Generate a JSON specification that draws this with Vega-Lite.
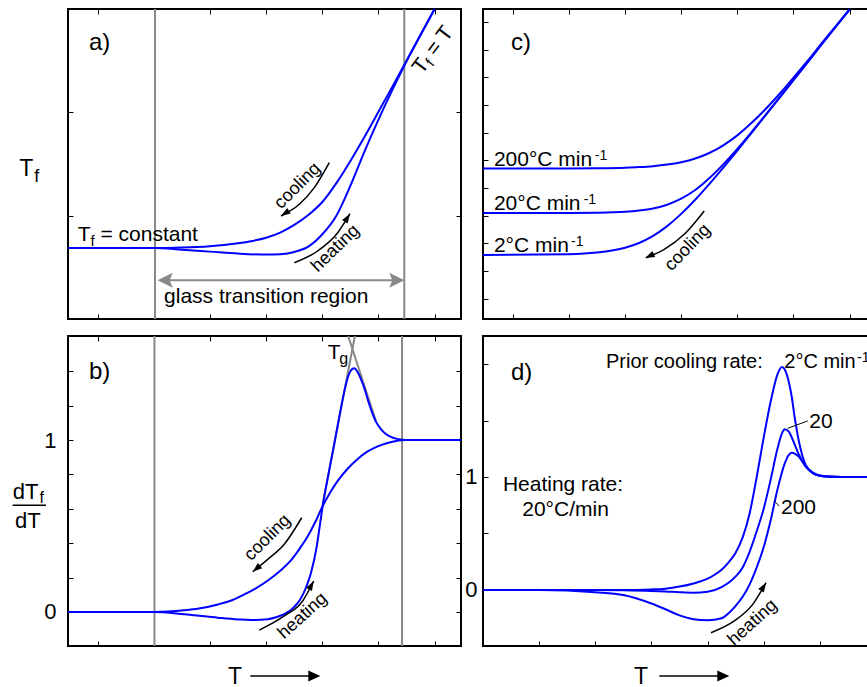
{
"$schema":"https://vega.github.io/schema/vega-lite/v6.json",
"background":"#ffffff",
"padding":{"left":10,"top":4,"right":0,"bottom":0},
"config":{"view":{"stroke":"#000000","strokeWidth":2},"text":{"font":"Liberation Sans","color":"#000000"},"axis":{"labelFont":"Liberation Sans"}},
"columns":2,
"spacing":{"row":17,"column":22},
"bounds":"flush",
"concat":[
{"width":393,"height":310,
"resolve":{"axis":{"x":"independent","y":"independent"}},
"encoding":{"x":{"field":"x","type":"quantitative","scale":{"domain":[-3.53,3.47],"nice":false,"zero":false},"axis":null},"y":{"field":"y","type":"quantitative","scale":{"domain":[0,3],"nice":false,"zero":false},"axis":null}},
"layer":[
{"data":{"values":[{"x":-1.98,"y":0,"y2":3},{"x":2.46,"y":0,"y2":3}]},"mark":{"type":"rule","color":"#888888","strokeWidth":2},
"encoding":{"x":{"field":"x","type":"quantitative","scale":{"domain":[-3.53,3.47],"nice":false,"zero":false},"axis":{"orient":"bottom","values":[-3,-2,-1,0,1,2,3],"labels":false,"ticks":true,"tickSize":-5,"tickColor":"#000000","tickWidth":1,"domain":false,"grid":false,"title":null}},
"y":{"field":"y","type":"quantitative","scale":{"domain":[0,3],"nice":false,"zero":false},"axis":{"orient":"left","values":[1,2],"labels":false,"ticks":true,"tickSize":-5,"tickColor":"#000000","tickWidth":1,"domain":false,"grid":false,"title":null}},
"y2":{"field":"y2"}}},
{"data":{"values":[{"x":-1.9,"x2":2.43,"y":0.375}]},"mark":{"type":"rule","color":"#888888","strokeWidth":2},
"encoding":{"x":{"field":"x","type":"quantitative","scale":{"domain":[-3.53,3.47],"nice":false,"zero":false},"axis":{"orient":"top","values":[-3,-2,-1,0,1,2,3],"labels":false,"ticks":true,"tickSize":-5,"tickColor":"#000000","tickWidth":1,"domain":false,"grid":false,"title":null}},
"x2":{"field":"x2"},
"y":{"field":"y","type":"quantitative","scale":{"domain":[0,3],"nice":false,"zero":false},"axis":{"orient":"right","values":[1,2],"labels":false,"ticks":true,"tickSize":-5,"tickColor":"#000000","tickWidth":1,"domain":false,"grid":false,"title":null}}}},
{"data":{"values":[{"x":-1.799,"y":0.375}]},"mark":{"type":"point","shape":"M1,0L-1,-1L-0.6,0L-1,1Z","filled":true,"size":225,"angle":180,"color":"#888888","opacity":1,"strokeWidth":0}},
{"data":{"values":[{"x":2.326,"y":0.375}]},"mark":{"type":"point","shape":"M1,0L-1,-1L-0.6,0L-1,1Z","filled":true,"size":225,"angle":0,"color":"#888888","opacity":1,"strokeWidth":0}},
{"data":{"values":[
{"c":"cooling","x":-3.53,"y":0.687},{"c":"cooling","x":-2,"y":0.687},{"c":"cooling","x":-1.5,"y":0.692},{"c":"cooling","x":-1,"y":0.705},{"c":"cooling","x":-0.75,"y":0.716},{"c":"cooling","x":-0.5,"y":0.732},{"c":"cooling","x":-0.25,"y":0.755},{"c":"cooling","x":0,"y":0.787},{"c":"cooling","x":0.25,"y":0.836},{"c":"cooling","x":0.5,"y":0.91},{"c":"cooling","x":0.75,"y":1.006},{"c":"cooling","x":1,"y":1.132},{"c":"cooling","x":1.25,"y":1.315},{"c":"cooling","x":1.5,"y":1.53},{"c":"cooling","x":1.75,"y":1.762},{"c":"cooling","x":2,"y":2.005},{"c":"cooling","x":2.25,"y":2.25},{"c":"cooling","x":2.5,"y":2.5},{"c":"cooling","x":3,"y":3},
{"c":"heating","x":-3.53,"y":0.687},{"c":"heating","x":-2,"y":0.687},{"c":"heating","x":-1.5,"y":0.671},{"c":"heating","x":-1,"y":0.652},{"c":"heating","x":-0.5,"y":0.633},{"c":"heating","x":0,"y":0.623},{"c":"heating","x":0.25,"y":0.627},{"c":"heating","x":0.5,"y":0.648},{"c":"heating","x":0.75,"y":0.7},{"c":"heating","x":1,"y":0.82},{"c":"heating","x":1.25,"y":1.0},{"c":"heating","x":1.5,"y":1.29},{"c":"heating","x":1.75,"y":1.62},{"c":"heating","x":2,"y":1.93},{"c":"heating","x":2.25,"y":2.22},{"c":"heating","x":2.5,"y":2.495},{"c":"heating","x":2.75,"y":2.75},{"c":"heating","x":3,"y":3}
]},"mark":{"type":"line","color":"#0000ff","strokeWidth":2,"interpolate":"monotone"},"encoding":{"detail":{"field":"c","type":"nominal"}}},
{"data":{"values":[
{"c":"ca","x":1.124,"y":1.513},{"c":"ca","x":0.857,"y":1.271},{"c":"ca","x":0.59,"y":1.11},{"c":"ca","x":0.264,"y":0.997},
{"c":"ha","x":0.501,"y":0.545},{"c":"ha","x":0.917,"y":0.658},{"c":"ha","x":1.274,"y":0.835},{"c":"ha","x":1.493,"y":1.019}
]},"mark":{"type":"line","color":"#000000","strokeWidth":1.5,"interpolate":"monotone"},"encoding":{"detail":{"field":"c","type":"nominal"}}},
{"data":{"values":[{"x":0.335,"y":1.022}]},"mark":{"type":"point","shape":"M1,0L-1,-0.7L-1,0.7Z","filled":true,"size":90,"angle":147,"color":"#000000","opacity":1,"strokeWidth":0}},
{"data":{"values":[{"x":1.447,"y":0.98}]},"mark":{"type":"point","shape":"M1,0L-1,-0.7L-1,0.7Z","filled":true,"size":90,"angle":303,"color":"#000000","opacity":1,"strokeWidth":0}},
{"data":{"values":[{"label":"a)","x":-3.156,"y":2.608}]},"mark":{"type":"text","fontSize":24,"align":"left","baseline":"alphabetic"},"encoding":{"text":{"field":"label"}}},
{"data":{"values":[{"label":"T","x":-4.398,"y":1.384}]},"mark":{"type":"text","fontSize":23,"align":"left","baseline":"alphabetic"},"encoding":{"text":{"field":"label"}}},
{"data":{"values":[{"label":"f","x":-4.131,"y":1.326}]},"mark":{"type":"text","fontSize":18,"align":"left","baseline":"alphabetic"},"encoding":{"text":{"field":"label"}}},
{"data":{"values":[{"label":"T","x":-3.358,"y":0.755},{"label":"= constant","x":-2.952,"y":0.755}]},"mark":{"type":"text","fontSize":21,"align":"left","baseline":"alphabetic"},"encoding":{"text":{"field":"label"}}},
{"data":{"values":[{"label":"f","x":-3.13,"y":0.706}]},"mark":{"type":"text","fontSize":15,"align":"left","baseline":"alphabetic"},"encoding":{"text":{"field":"label"}}},
{"data":{"values":[{"label":"glass transition region","x":0.0,"y":0.158}]},"mark":{"type":"text","fontSize":21,"align":"center","baseline":"alphabetic"},"encoding":{"text":{"field":"label"}}},
{"data":{"values":[{"label":"cooling","x":0.561,"y":1.287}]},"mark":{"type":"text","fontSize":18,"align":"center","baseline":"middle","angle":315},"encoding":{"text":{"field":"label"}}},
{"data":{"values":[{"label":"heating","x":1.234,"y":0.682}]},"mark":{"type":"text","fontSize":18,"align":"center","baseline":"middle","angle":316},"encoding":{"text":{"field":"label"}}},
{"data":{"values":[{"label":"T","x":2.775,"y":2.361},{"label":"= T","x":3.016,"y":2.536}]},"mark":{"type":"text","fontSize":21,"align":"left","baseline":"alphabetic","angle":307},"encoding":{"text":{"field":"label"}}},
{"data":{"values":[{"label":"f","x":2.969,"y":2.437}]},"mark":{"type":"text","fontSize":15,"align":"left","baseline":"alphabetic","angle":307},"encoding":{"text":{"field":"label"}}}
]},
{"width":393,"height":310,
"resolve":{"axis":{"x":"independent","y":"independent"}},
"encoding":{"x":{"field":"x","type":"quantitative","scale":{"domain":[-3.53,3.47],"nice":false,"zero":false},"axis":null},"y":{"field":"y","type":"quantitative","scale":{"domain":[-0.7336,10.4698],"nice":false,"zero":false},"axis":null}},
"layer":[
{"data":{"values":[
{"c":"2","x":-3.53,"y":1.579},{"c":"2","x":-2,"y":1.606},{"c":"2","x":-1.5,"y":1.666},{"c":"2","x":-1,"y":1.84},{"c":"2","x":-0.75,"y":2.013},{"c":"2","x":-0.5,"y":2.27},{"c":"2","x":-0.25,"y":2.624},{"c":"2","x":0,"y":3.065},{"c":"2","x":0.25,"y":3.574},{"c":"2","x":0.5,"y":4.142},{"c":"2","x":0.75,"y":4.738},{"c":"2","x":1,"y":5.352},{"c":"2","x":1.25,"y":5.985},{"c":"2","x":1.5,"y":6.621},{"c":"2","x":1.75,"y":7.261},{"c":"2","x":2,"y":7.897},{"c":"2","x":2.25,"y":8.54},{"c":"2","x":2.5,"y":9.187},{"c":"2","x":3,"y":10.459},
{"c":"20","x":-3.53,"y":3.097},{"c":"20","x":-2,"y":3.101},{"c":"20","x":-1.5,"y":3.11},{"c":"20","x":-1,"y":3.144},{"c":"20","x":-0.75,"y":3.188},{"c":"20","x":-0.5,"y":3.263},{"c":"20","x":-0.25,"y":3.397},{"c":"20","x":0,"y":3.614},{"c":"20","x":0.25,"y":3.928},{"c":"20","x":0.5,"y":4.351},{"c":"20","x":0.75,"y":4.854},{"c":"20","x":1,"y":5.414},{"c":"20","x":1.25,"y":6.014},{"c":"20","x":1.5,"y":6.635},{"c":"20","x":1.75,"y":7.264},{"c":"20","x":2,"y":7.904},{"c":"20","x":2.25,"y":8.54},{"c":"20","x":2.5,"y":9.187},{"c":"20","x":3,"y":10.459},
{"c":"200","x":-3.53,"y":4.706},{"c":"200","x":-2,"y":4.709},{"c":"200","x":-1.5,"y":4.716},{"c":"200","x":-1,"y":4.736},{"c":"200","x":-0.75,"y":4.756},{"c":"200","x":-0.5,"y":4.789},{"c":"200","x":-0.25,"y":4.846},{"c":"200","x":0,"y":4.933},{"c":"200","x":0.25,"y":5.067},{"c":"200","x":0.5,"y":5.266},{"c":"200","x":0.75,"y":5.544},{"c":"200","x":1,"y":5.902},{"c":"200","x":1.25,"y":6.346},{"c":"200","x":1.5,"y":6.845},{"c":"200","x":1.75,"y":7.398},{"c":"200","x":2,"y":7.987},{"c":"200","x":2.25,"y":8.594},{"c":"200","x":2.5,"y":9.223},{"c":"200","x":3,"y":10.459}
]},"mark":{"type":"line","color":"#0000ff","strokeWidth":2,"interpolate":"monotone"},
"encoding":{"x":{"field":"x","type":"quantitative","scale":{"domain":[-3.53,3.47],"nice":false,"zero":false},"axis":{"orient":"bottom","values":[-3,-2,-1,0,1,2,3],"labels":false,"ticks":true,"tickSize":-5,"tickColor":"#000000","tickWidth":1,"domain":false,"grid":false,"title":null}},
"y":{"field":"y","type":"quantitative","scale":{"domain":[-0.7336,10.4698],"nice":false,"zero":false},"axis":{"orient":"left","values":[0,1,2,3,4,5,6,7,8,9,10],"labels":false,"ticks":true,"tickSize":-5,"tickColor":"#000000","tickWidth":1,"domain":false,"grid":false,"title":null}},
"detail":{"field":"c","type":"nominal"}}},
{"data":{"values":[{"x":0.411,"y":3.17},{"x":0.055,"y":2.327},{"x":-0.301,"y":1.785},{"x":-0.627,"y":1.482}]},"mark":{"type":"line","color":"#000000","strokeWidth":1.5,"interpolate":"monotone"},
"encoding":{"x":{"field":"x","type":"quantitative","scale":{"domain":[-3.53,3.47],"nice":false,"zero":false},"axis":{"orient":"top","values":[-3,-2,-1,0,1,2,3],"labels":false,"ticks":true,"tickSize":-5,"tickColor":"#000000","tickWidth":1,"domain":false,"grid":false,"title":null}},
"y":{"field":"y","type":"quantitative","scale":{"domain":[-0.7336,10.4698],"nice":false,"zero":false},"axis":{"orient":"right","values":[0,1,2,3,4,5,6,7,8,9,10],"labels":false,"ticks":true,"tickSize":-5,"tickColor":"#000000","tickWidth":1,"domain":false,"grid":false,"title":null}}}},
{"data":{"values":[{"x":-0.564,"y":1.543}]},"mark":{"type":"point","shape":"M1,0L-1,-0.7L-1,0.7Z","filled":true,"size":90,"angle":155,"color":"#000000","opacity":1,"strokeWidth":0}},
{"data":{"values":[{"label":"c)","x":-3.032,"y":9.006}]},"mark":{"type":"text","fontSize":24,"align":"left","baseline":"alphabetic"},"encoding":{"text":{"field":"label"}}},
{"data":{"values":[{"label":"200°C min","x":-3.336,"y":4.796},{"label":"20°C min","x":-3.336,"y":3.195},{"label":"2°C min","x":-3.336,"y":1.699}]},"mark":{"type":"text","fontSize":21,"align":"left","baseline":"alphabetic"},"encoding":{"text":{"field":"label"}}},
{"data":{"values":[{"label":"-1","x":-1.54,"y":5.013},{"label":"-1","x":-1.737,"y":3.412},{"label":"-1","x":-1.963,"y":1.915}]},"mark":{"type":"text","fontSize":14,"align":"left","baseline":"alphabetic"},"encoding":{"text":{"field":"label"}}},
{"data":{"values":[{"label":"cooling","x":0.116,"y":1.843}]},"mark":{"type":"text","fontSize":18,"align":"center","baseline":"middle","angle":314},"encoding":{"text":{"field":"label"}}}
]},
{"width":393,"height":310,
"resolve":{"axis":{"x":"independent","y":"independent"}},
"encoding":{"x":{"field":"x","type":"quantitative","scale":{"domain":[-3.53,3.47],"nice":false,"zero":false},"axis":null},"y":{"field":"y","type":"quantitative","scale":{"domain":[-0.1977,1.6047],"nice":false,"zero":false},"axis":null}},
"layer":[
{"data":{"values":[{"x":-1.99,"y":-0.1977,"y2":1.6047},{"x":2.42,"y":-0.1977,"y2":1.6047}]},"mark":{"type":"rule","color":"#888888","strokeWidth":2},
"encoding":{"x":{"field":"x","type":"quantitative","scale":{"domain":[-3.53,3.47],"nice":false,"zero":false},"axis":{"orient":"bottom","values":[-3,-2,-1,0,1,2,3],"labels":false,"ticks":true,"tickSize":-5,"tickColor":"#000000","tickWidth":1,"domain":false,"grid":false,"title":null}},
"y":{"field":"y","type":"quantitative","scale":{"domain":[-0.1977,1.6047],"nice":false,"zero":false},"axis":{"orient":"left","values":[0,0.2,0.4,0.6,0.8,1,1.2,1.4],"format":".0f","labelExpr":"datum.value == 0 || datum.value == 1 ? datum.label : ''","labelOverlap":false,"labelFont":"Liberation Sans","labelFontSize":22,"labelColor":"#000000","labelPadding":17,"ticks":true,"tickSize":-5,"tickColor":"#000000","tickWidth":1,"domain":false,"grid":false,"title":null}},
"y2":{"field":"y2"}}},
{"data":{"values":[{"c":"L","x":1.006,"y":0.626},{"c":"L","x":1.58,"y":1.6047},{"c":"R","x":1.46,"y":1.6047},{"c":"R","x":1.956,"y":1.11}]},"mark":{"type":"line","color":"#888888","strokeWidth":2},
"encoding":{"x":{"field":"x","type":"quantitative","scale":{"domain":[-3.53,3.47],"nice":false,"zero":false},"axis":{"orient":"top","values":[-3,-2,-1,0,1,2,3],"labels":false,"ticks":true,"tickSize":-5,"tickColor":"#000000","tickWidth":1,"domain":false,"grid":false,"title":null}},
"y":{"field":"y","type":"quantitative","scale":{"domain":[-0.1977,1.6047],"nice":false,"zero":false},"axis":{"orient":"right","values":[0,0.2,0.4,0.6,0.8,1,1.2,1.4],"labels":false,"ticks":true,"tickSize":-5,"tickColor":"#000000","tickWidth":1,"domain":false,"grid":false,"title":null}},
"detail":{"field":"c","type":"nominal"}}},
{"data":{"values":[
{"c":"cooling","x":-3.53,"y":0},{"c":"cooling","x":-2,"y":0},{"c":"cooling","x":-1.46,"y":0.01},{"c":"cooling","x":-1.2,"y":0.02},{"c":"cooling","x":-0.86,"y":0.044},{"c":"cooling","x":-0.6,"y":0.07},{"c":"cooling","x":-0.39,"y":0.102},{"c":"cooling","x":-0.2,"y":0.135},{"c":"cooling","x":0.03,"y":0.183},{"c":"cooling","x":0.25,"y":0.24},{"c":"cooling","x":0.44,"y":0.3},{"c":"cooling","x":0.6,"y":0.37},{"c":"cooling","x":0.74,"y":0.44},{"c":"cooling","x":0.87,"y":0.52},{"c":"cooling","x":1.006,"y":0.616},{"c":"cooling","x":1.14,"y":0.695},{"c":"cooling","x":1.274,"y":0.762},{"c":"cooling","x":1.45,"y":0.833},{"c":"cooling","x":1.63,"y":0.89},{"c":"cooling","x":1.8,"y":0.932},{"c":"cooling","x":1.986,"y":0.963},{"c":"cooling","x":2.16,"y":0.983},{"c":"cooling","x":2.342,"y":0.996},{"c":"cooling","x":2.46,"y":1},{"c":"cooling","x":3.47,"y":1},
{"c":"heating","x":-3.53,"y":0},{"c":"heating","x":-2,"y":0},{"c":"heating","x":-1.46,"y":-0.013},{"c":"heating","x":-0.86,"y":-0.033},{"c":"heating","x":-0.5,"y":-0.043},{"c":"heating","x":-0.27,"y":-0.047},{"c":"heating","x":0.03,"y":-0.042},{"c":"heating","x":0.2,"y":-0.028},{"c":"heating","x":0.32,"y":-0.013},{"c":"heating","x":0.5,"y":0.03},{"c":"heating","x":0.6,"y":0.07},{"c":"heating","x":0.7,"y":0.135},{"c":"heating","x":0.8,"y":0.23},{"c":"heating","x":0.9,"y":0.38},{"c":"heating","x":0.95,"y":0.49},{"c":"heating","x":1.006,"y":0.616},{"c":"heating","x":1.1,"y":0.785},{"c":"heating","x":1.2,"y":0.955},{"c":"heating","x":1.3,"y":1.13},{"c":"heating","x":1.39,"y":1.28},{"c":"heating","x":1.47,"y":1.38},{"c":"heating","x":1.53,"y":1.412},{"c":"heating","x":1.57,"y":1.417},{"c":"heating","x":1.62,"y":1.4},{"c":"heating","x":1.68,"y":1.36},{"c":"heating","x":1.75,"y":1.3},{"c":"heating","x":1.81,"y":1.235},{"c":"heating","x":1.87,"y":1.175},{"c":"heating","x":1.95,"y":1.11},{"c":"heating","x":2.04,"y":1.065},{"c":"heating","x":2.13,"y":1.035},{"c":"heating","x":2.22,"y":1.018},{"c":"heating","x":2.31,"y":1.008},{"c":"heating","x":2.42,"y":1.002},{"c":"heating","x":2.5,"y":1},{"c":"heating","x":3.47,"y":1}
]},"mark":{"type":"line","color":"#0000ff","strokeWidth":2,"interpolate":"monotone"},"encoding":{"detail":{"field":"c","type":"nominal"}}},
{"data":{"values":[
{"c":"ca","x":0.632,"y":0.548},{"c":"ca","x":0.322,"y":0.394},{"c":"ca","x":0.027,"y":0.306},{"c":"ca","x":-0.24,"y":0.234},
{"c":"ha","x":-0.123,"y":-0.105},{"c":"ha","x":0.322,"y":-0.023},{"c":"ha","x":0.65,"y":0.064},{"c":"ha","x":0.846,"y":0.18},
{"c":"ta","x":-0.283,"y":-0.372},{"c":"ta","x":0.8,"y":-0.372}
]},"mark":{"type":"line","color":"#000000","strokeWidth":1.5,"interpolate":"monotone"},"encoding":{"detail":{"field":"c","type":"nominal"}}},
{"data":{"values":[{"x":-0.175,"y":0.252}]},"mark":{"type":"point","shape":"M1,0L-1,-0.7L-1,0.7Z","filled":true,"size":90,"angle":140,"color":"#000000","opacity":1,"strokeWidth":0}},
{"data":{"values":[{"x":0.805,"y":0.156}]},"mark":{"type":"point","shape":"M1,0L-1,-0.7L-1,0.7Z","filled":true,"size":90,"angle":299,"color":"#000000","opacity":1,"strokeWidth":0}},
{"data":{"values":[{"x":0.857,"y":-0.372}]},"mark":{"type":"point","shape":"M1,0L-1,-0.9L-1,0.9Z","filled":true,"size":144,"angle":0,"color":"#000000","opacity":1,"strokeWidth":0}},
{"data":{"values":[{"x":-4.516,"x2":-3.922,"y":0.62}]},"mark":{"type":"rule","color":"#000000","strokeWidth":1.5},"encoding":{"x2":{"field":"x2"}}},
{"data":{"values":[{"label":"b)","x":-3.156,"y":1.352}]},"mark":{"type":"text","fontSize":24,"align":"left","baseline":"alphabetic"},"encoding":{"text":{"field":"label"}}},
{"data":{"values":[{"label":"T","x":-0.68,"y":-0.42}]},"mark":{"type":"text","fontSize":23,"align":"left","baseline":"alphabetic"},"encoding":{"text":{"field":"label"}}},
{"data":{"values":[{"label":"dT","x":-4.516,"y":0.655},{"label":"dT","x":-4.475,"y":0.487}]},"mark":{"type":"text","fontSize":22,"align":"left","baseline":"alphabetic"},"encoding":{"text":{"field":"label"}}},
{"data":{"values":[{"label":"f","x":-4.038,"y":0.631},{"label":"g","x":1.302,"y":1.44}]},"mark":{"type":"text","fontSize":16,"align":"left","baseline":"alphabetic"},"encoding":{"text":{"field":"label"}}},
{"data":{"values":[{"label":"T","x":1.095,"y":1.469}]},"mark":{"type":"text","fontSize":21,"align":"left","baseline":"alphabetic"},"encoding":{"text":{"field":"label"}}},
{"data":{"values":[{"label":"cooling","x":0.027,"y":0.432}]},"mark":{"type":"text","fontSize":18,"align":"center","baseline":"middle","angle":315},"encoding":{"text":{"field":"label"}}},
{"data":{"values":[{"label":"heating","x":0.65,"y":-0.023}]},"mark":{"type":"text","fontSize":18,"align":"center","baseline":"middle","angle":318},"encoding":{"text":{"field":"label"}}}
]},
{"width":393,"height":310,
"resolve":{"axis":{"x":"independent","y":"independent"}},
"encoding":{"x":{"field":"x","type":"quantitative","scale":{"domain":[0,7],"nice":false,"zero":false},"axis":null},"y":{"field":"y","type":"quantitative","scale":{"domain":[-0.4956,2.2478],"nice":false,"zero":false},"axis":null}},
"layer":[
{"data":{"values":[
{"c":"2","x":0,"y":0},{"c":"2","x":2,"y":0},{"c":"2","x":2.5,"y":0},{"c":"2","x":3,"y":0.005},{"c":"2","x":3.25,"y":0.012},{"c":"2","x":3.5,"y":0.03},{"c":"2","x":3.75,"y":0.058},{"c":"2","x":4,"y":0.1},{"c":"2","x":4.125,"y":0.135},{"c":"2","x":4.25,"y":0.18},{"c":"2","x":4.375,"y":0.245},{"c":"2","x":4.5,"y":0.33},{"c":"2","x":4.625,"y":0.465},{"c":"2","x":4.75,"y":0.68},{"c":"2","x":4.875,"y":1.0},{"c":"2","x":5,"y":1.35},{"c":"2","x":5.125,"y":1.67},{"c":"2","x":5.25,"y":1.915},{"c":"2","x":5.326,"y":1.973},{"c":"2","x":5.375,"y":1.951},{"c":"2","x":5.455,"y":1.823},{"c":"2","x":5.5,"y":1.708},{"c":"2","x":5.545,"y":1.549},{"c":"2","x":5.625,"y":1.319},{"c":"2","x":5.75,"y":1.105},{"c":"2","x":5.875,"y":1.04},{"c":"2","x":6,"y":1.013},{"c":"2","x":6.25,"y":1.002},{"c":"2","x":6.5,"y":1},{"c":"2","x":7,"y":1},
{"c":"20","x":0,"y":0},{"c":"20","x":2,"y":0},{"c":"20","x":2.5,"y":-0.002},{"c":"20","x":3,"y":-0.008},{"c":"20","x":3.25,"y":-0.013},{"c":"20","x":3.5,"y":-0.02},{"c":"20","x":3.75,"y":-0.024},{"c":"20","x":4,"y":-0.016},{"c":"20","x":4.25,"y":0.025},{"c":"20","x":4.5,"y":0.12},{"c":"20","x":4.625,"y":0.2},{"c":"20","x":4.75,"y":0.34},{"c":"20","x":4.875,"y":0.52},{"c":"20","x":5,"y":0.72},{"c":"20","x":5.125,"y":0.98},{"c":"20","x":5.25,"y":1.26},{"c":"20","x":5.32,"y":1.38},{"c":"20","x":5.379,"y":1.422},{"c":"20","x":5.45,"y":1.4},{"c":"20","x":5.5,"y":1.35},{"c":"20","x":5.625,"y":1.2},{"c":"20","x":5.75,"y":1.095},{"c":"20","x":5.875,"y":1.035},{"c":"20","x":6,"y":1.012},{"c":"20","x":6.25,"y":1.002},{"c":"20","x":6.5,"y":1},{"c":"20","x":7,"y":1},
{"c":"200","x":0,"y":0},{"c":"200","x":1,"y":0},{"c":"200","x":2,"y":-0.02},{"c":"200","x":2.5,"y":-0.045},{"c":"200","x":3,"y":-0.12},{"c":"200","x":3.25,"y":-0.17},{"c":"200","x":3.5,"y":-0.225},{"c":"200","x":3.75,"y":-0.258},{"c":"200","x":4,"y":-0.268},{"c":"200","x":4.25,"y":-0.25},{"c":"200","x":4.375,"y":-0.205},{"c":"200","x":4.5,"y":-0.14},{"c":"200","x":4.625,"y":-0.06},{"c":"200","x":4.75,"y":0.05},{"c":"200","x":4.875,"y":0.2},{"c":"200","x":5,"y":0.38},{"c":"200","x":5.125,"y":0.62},{"c":"200","x":5.25,"y":0.9},{"c":"200","x":5.375,"y":1.12},{"c":"200","x":5.44,"y":1.19},{"c":"200","x":5.5,"y":1.215},{"c":"200","x":5.56,"y":1.205},{"c":"200","x":5.625,"y":1.18},{"c":"200","x":5.75,"y":1.09},{"c":"200","x":5.875,"y":1.035},{"c":"200","x":6,"y":1.012},{"c":"200","x":6.25,"y":1.002},{"c":"200","x":6.5,"y":1},{"c":"200","x":7,"y":1}
]},"mark":{"type":"line","color":"#0000ff","strokeWidth":2,"interpolate":"monotone"},
"encoding":{"x":{"field":"x","type":"quantitative","scale":{"domain":[0,7],"nice":false,"zero":false},"axis":{"orient":"bottom","values":[1,2,3,4,5,6],"labels":false,"ticks":true,"tickSize":-5,"tickColor":"#000000","tickWidth":1,"domain":false,"grid":false,"title":null}},
"y":{"field":"y","type":"quantitative","scale":{"domain":[-0.4956,2.2478],"nice":false,"zero":false},"axis":{"orient":"left","values":[0,0.5,1,1.5,2],"format":".0f","labelExpr":"datum.value == 0 || datum.value == 1 ? datum.label : ''","labelOverlap":false,"labelFont":"Liberation Sans","labelFontSize":22,"labelColor":"#000000","labelPadding":11,"ticks":true,"tickSize":-5,"tickColor":"#000000","tickWidth":1,"domain":false,"grid":false,"title":null}},
"detail":{"field":"c","type":"nominal"}}},
{"data":{"values":[
{"c":"l20","x":5.428,"y":1.431},{"c":"l20","x":5.784,"y":1.496},
{"c":"l200","x":5.189,"y":0.788},{"c":"l200","x":5.278,"y":0.743}
]},"mark":{"type":"line","color":"#000000","strokeWidth":1},"encoding":{"detail":{"field":"c","type":"nominal"}}},
{"data":{"values":[
{"c":"ha","x":4.061,"y":-0.378},{"c":"ha","x":4.476,"y":-0.274},{"c":"ha","x":4.804,"y":-0.127},{"c":"ha","x":5.041,"y":0.065},
{"c":"ta","x":3.14,"y":-0.761},{"c":"ta","x":4.25,"y":-0.761}
]},"mark":{"type":"line","color":"#000000","strokeWidth":1.5,"interpolate":"monotone"},"encoding":{"detail":{"field":"c","type":"nominal"}}},
{"data":{"values":[{"x":4.997,"y":0.029}]},"mark":{"type":"point","shape":"M1,0L-1,-0.7L-1,0.7Z","filled":true,"size":90,"angle":302,"color":"#000000","opacity":1,"strokeWidth":0}},
{"data":{"values":[{"x":4.28,"y":-0.761}]},"mark":{"type":"point","shape":"M1,0L-1,-0.9L-1,0.9Z","filled":true,"size":144,"angle":0,"color":"#000000","opacity":1,"strokeWidth":0}},
{"data":{"values":[{"label":"d)","x":0.499,"y":1.858}]},"mark":{"type":"text","fontSize":24,"align":"left","baseline":"alphabetic"},"encoding":{"text":{"field":"label"}}},
{"data":{"values":[{"label":"T","x":2.69,"y":-0.835}]},"mark":{"type":"text","fontSize":23,"align":"left","baseline":"alphabetic"},"encoding":{"text":{"field":"label"}}},
{"data":{"values":[{"label":"Prior cooling rate:","x":2.191,"y":1.962},{"label":"2°C min","x":5.367,"y":1.962}]},"mark":{"type":"text","fontSize":20,"align":"left","baseline":"alphabetic"},"encoding":{"text":{"field":"label"}}},
{"data":{"values":[{"label":"-1","x":6.662,"y":2.015}]},"mark":{"type":"text","fontSize":14,"align":"left","baseline":"alphabetic"},"encoding":{"text":{"field":"label"}}},
{"data":{"values":[{"label":"20","x":5.812,"y":1.437},{"label":"200","x":5.308,"y":0.67}]},"mark":{"type":"text","fontSize":21,"align":"left","baseline":"alphabetic"},"encoding":{"text":{"field":"label"}}},
{"data":{"values":[{"label":"Heating rate:","x":1.425,"y":0.876},{"label":"20°C/min","x":1.47,"y":0.655}]},"mark":{"type":"text","fontSize":21,"align":"center","baseline":"alphabetic"},"encoding":{"text":{"field":"label"}}},
{"data":{"values":[{"label":"heating","x":4.801,"y":-0.289}]},"mark":{"type":"text","fontSize":18,"align":"center","baseline":"middle","angle":318},"encoding":{"text":{"field":"label"}}}
]}
]
}
